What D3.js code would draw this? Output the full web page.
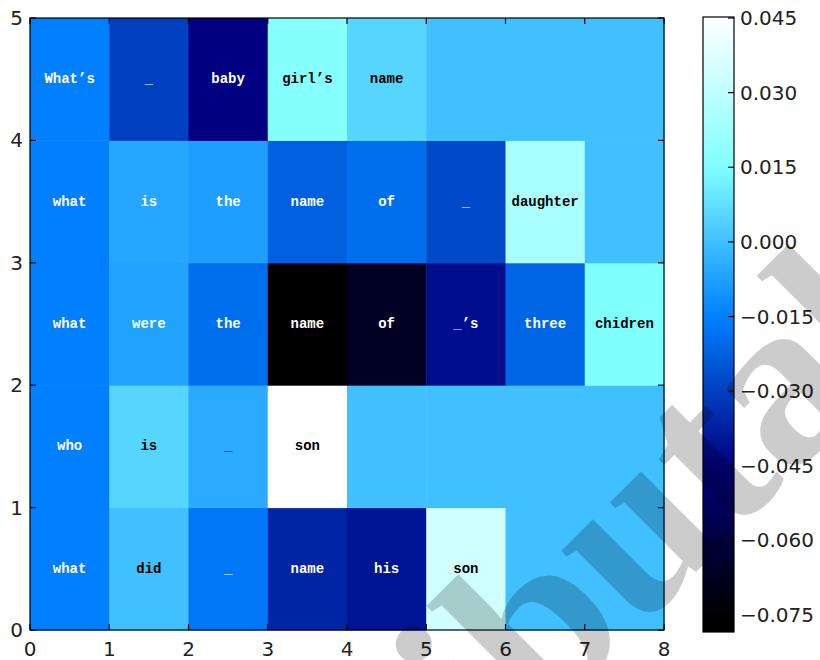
<!DOCTYPE html>
<html>
<head>
<meta charset="utf-8">
<script src="https://cdn.jsdelivr.net/npm/d3@7"></script>
<style>
  html, body { margin: 0; padding: 0; background: #fff; }
  svg { display: block; }
</style>
</head>
<body>
<svg id="chart" width="820" height="660"></svg>
<script>
// ---- data (rows listed bottom → top, row index = y position) ----
const rowWords = [
  ["what", "did", "_", "name", "his", "son", "", ""],
  ["who", "is", "_", "son", "", "", "", ""],
  ["what", "were", "the", "name", "of", "_’s", "three", "chidren"],
  ["what", "is", "the", "name", "of", "_", "daughter", ""],
  ["What’s", "_", "baby", "girl’s", "name", "", "", ""]
];
const rowValues = [
  [-0.015, 0.000, -0.017, -0.036, -0.040, 0.034, 0.000, 0.000],
  [-0.015, 0.005, -0.005, 0.045, 0.000, 0.000, 0.000, 0.000],
  [-0.015, -0.007, -0.019, -0.078, -0.067, -0.042, -0.021, 0.015],
  [-0.015, -0.006, -0.008, -0.0225, -0.019, -0.028, 0.025, 0.000],
  [-0.015, -0.030, -0.045, 0.0165, 0.005, 0.000, 0.000, 0.000]
];
const xTicks = [0, 1, 2, 3, 4, 5, 6, 7, 8];
const yTicks = [0, 1, 2, 3, 4, 5];
const cbarTicks = [0.045, 0.030, 0.015, 0.000, -0.015, -0.030, -0.045, -0.060, -0.075];
const colorStops = [-0.075, -0.045, -0.015, 0.015, 0.045];
const colorRange = ["#000000", "#000080", "#0080ff", "#80ffff", "#ffffff"];
const vMin = -0.0784, vMax = 0.0452;
const watermarkHead = "distri", watermarkTail = "butable";

// ---- layout ----
const svg = d3.select("#chart");
const plot = { left: 30, right: 664, top: 18, bottom: 630 };
const cbar = { left: 703, right: 734, top: 17, bottom: 632 };

const x = d3.scaleLinear().domain([0, 8]).range([plot.left, plot.right]);
const y = d3.scaleLinear().domain([0, 5]).range([plot.bottom, plot.top]);
const color = d3.scaleLinear().domain(colorStops).range(colorRange).clamp(true);

// cells
const cells = [];
rowValues.forEach((row, r) => row.forEach((v, c) => cells.push({ r, c, v, w: rowWords[r][c] })));

svg.append("g").selectAll("rect").data(cells).join("rect")
  .attr("x", d => x(d.c))
  .attr("y", d => y(d.r + 1))
  .attr("width", d => x(d.c + 1) - x(d.c) + 0.5)
  .attr("height", d => y(d.r) - y(d.r + 1) + 0.5)
  .attr("fill", d => color(d.v));

svg.append("g").selectAll("text").data(cells.filter(d => d.w)).join("text")
  .attr("x", d => x(d.c + 0.5))
  .attr("y", d => y(d.r + 0.5))
  .attr("text-anchor", "middle")
  .attr("dominant-baseline", "central")
  .attr("font-family", "'Liberation Mono', monospace")
  .attr("font-weight", "bold")
  .attr("font-size", 14)
  .attr("fill", d => d.v > -0.0055 ? "#000" : "#fff")
  .text(d => d.w);

// axes frame
const tickLen = 6;
const frame = svg.append("g").attr("stroke", "#000").attr("stroke-width", 1.2);
frame.append("rect")
  .attr("x", plot.left).attr("y", plot.top)
  .attr("width", plot.right - plot.left).attr("height", plot.bottom - plot.top)
  .attr("fill", "none");

// inward ticks on all four sides
frame.selectAll("line.xb").data(xTicks).join("line")
  .attr("x1", d => x(d)).attr("x2", d => x(d))
  .attr("y1", plot.bottom).attr("y2", plot.bottom - tickLen);
frame.selectAll("line.xt").data(xTicks).join("line").attr("class", "xt")
  .attr("x1", d => x(d)).attr("x2", d => x(d))
  .attr("y1", plot.top).attr("y2", plot.top + tickLen);
frame.selectAll("line.yl").data(yTicks).join("line").attr("class", "yl")
  .attr("y1", d => y(d)).attr("y2", d => y(d))
  .attr("x1", plot.left).attr("x2", plot.left + tickLen);
frame.selectAll("line.yr").data(yTicks).join("line").attr("class", "yr")
  .attr("y1", d => y(d)).attr("y2", d => y(d))
  .attr("x1", plot.right).attr("x2", plot.right - tickLen);

const labelFont = "'DejaVu Sans', sans-serif";
svg.append("g").selectAll("text").data(xTicks).join("text")
  .attr("x", d => x(d)).attr("y", plot.bottom + 26)
  .attr("text-anchor", "middle")
  .attr("font-family", labelFont).attr("font-size", 20).attr("fill", "#222")
  .text(d => d);
svg.append("g").selectAll("text").data(yTicks).join("text")
  .attr("x", plot.left - 7).attr("y", d => y(d))
  .attr("text-anchor", "end").attr("dominant-baseline", "central")
  .attr("font-family", labelFont).attr("font-size", 20).attr("fill", "#222")
  .text(d => d);

// colorbar
const cy = d3.scaleLinear().domain([vMin, vMax]).range([cbar.bottom, cbar.top]);
const defs = svg.append("defs");
const grad = defs.append("linearGradient").attr("id", "cgrad")
  .attr("x1", 0).attr("y1", 1).attr("x2", 0).attr("y2", 0);
d3.range(0, 1.0001, 0.02).forEach(t => {
  grad.append("stop").attr("offset", t).attr("stop-color", color(vMin + t * (vMax - vMin)));
});
svg.append("rect")
  .attr("x", cbar.left).attr("y", cbar.top)
  .attr("width", cbar.right - cbar.left).attr("height", cbar.bottom - cbar.top)
  .attr("fill", "url(#cgrad)").attr("stroke", "#000").attr("stroke-width", 1.2);
svg.append("g").attr("stroke", "#000").attr("stroke-width", 1.2)
  .selectAll("line").data(cbarTicks).join("line")
  .attr("x1", cbar.right).attr("x2", cbar.right - tickLen)
  .attr("y1", d => cy(d)).attr("y2", d => cy(d));
const fmt = v => (v < 0 ? "\u2212" : "") + Math.abs(v).toFixed(3);
svg.append("g").selectAll("text").data(cbarTicks).join("text")
  .attr("x", cbar.right + 6).attr("y", d => cy(d))
  .attr("dominant-baseline", "central")
  .attr("font-family", labelFont).attr("font-size", 20).attr("fill", "#222")
  .text(d => fmt(d));

// watermark (semi-transparent, rotated, partly outside the canvas)
const wm = svg.append("g")
  .attr("transform", "translate(542,726) rotate(-45)")
  .attr("font-family", "'Liberation Serif', serif")
  .attr("font-weight", "bold")
  .attr("font-size", 240)
  .attr("fill", "#000").attr("fill-opacity", 0.2);
wm.append("text").attr("text-anchor", "end").text(watermarkHead);
wm.append("text").attr("text-anchor", "start").text(watermarkTail);
</script>
</body>
</html>
